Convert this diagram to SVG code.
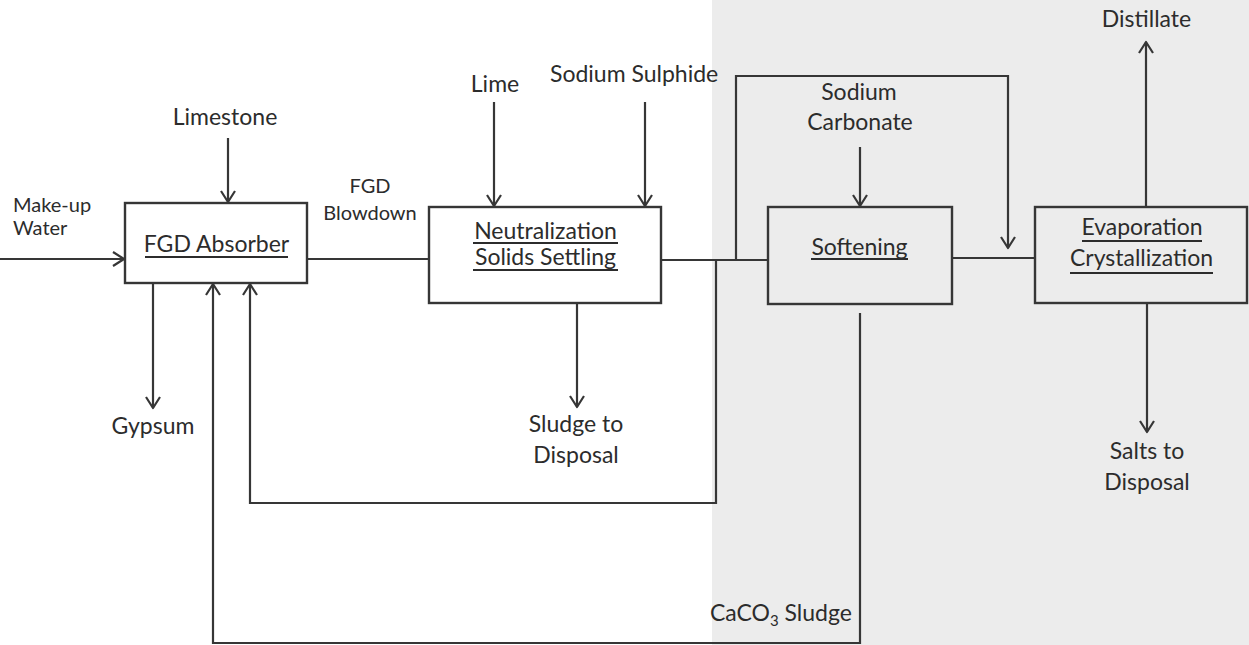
<svg xmlns="http://www.w3.org/2000/svg" width="1249" height="645" viewBox="0 0 1249 645">
<defs>
<marker id="arr" viewBox="-14 -9 16 18" refX="0" refY="0" markerWidth="16" markerHeight="18" orient="auto" markerUnits="userSpaceOnUse">
<path d="M-11,-7 L0,0 L-11,7" fill="none" stroke="#363636" stroke-width="2.2" stroke-linejoin="round"/>
</marker>
</defs>
<style>
.bg{fill:#ffffff}
.bg2{fill:#ececec}
.box{fill:none;stroke:#363636;stroke-width:2.4}
.ln{fill:none;stroke:#363636;stroke-width:2.2}
.ar{marker-end:url(#arr)}
text{font-family:Lato,"Liberation Sans",sans-serif;font-size:23px;fill:#2c2c2c}
.c{text-anchor:middle}
.sm{font-size:20px}
.ul{stroke:#2c2c2c;stroke-width:1.8}
</style>
<rect class="bg" x="0" y="0" width="1249" height="645"/>
<rect class="bg2" x="712" y="0" width="537" height="645"/>

<g id="connectors">
<line class="ln ar" x1="0" y1="259" x2="124" y2="259"/>
<line class="ln ar" x1="228" y1="138" x2="228" y2="202"/>
<line class="ln" x1="307" y1="259" x2="429" y2="259"/>
<line class="ln ar" x1="494" y1="102" x2="494" y2="206"/>
<line class="ln ar" x1="645" y1="102" x2="645" y2="206"/>
<line class="ln" x1="661" y1="260" x2="768" y2="260"/>
<polyline class="ln ar" points="736,260 736,76 1008,76 1008,248"/>
<line class="ln ar" x1="860" y1="147" x2="860" y2="206"/>
<line class="ln" x1="952" y1="258" x2="1035" y2="258"/>
<line class="ln ar" x1="1146" y1="207" x2="1146" y2="42"/>
<line class="ln ar" x1="1147" y1="303" x2="1147" y2="432"/>
<line class="ln ar" x1="153" y1="283" x2="153" y2="408"/>
<line class="ln ar" x1="577" y1="303" x2="577" y2="407"/>
<polyline class="ln ar" points="716,260 716,503 250,503 250,284"/>
<polyline class="ln ar" points="860,313 860,643 213,643 213,284"/>
</g>

<g id="fgd-absorber">
<rect class="box" x="125" y="203" width="182" height="80"/>
<text class="c" x="216.5" y="252">FGD Absorber</text>
<line class="ul" x1="145" y1="257" x2="288" y2="257"/>
</g>

<g id="neutralization">
<rect class="box" x="429" y="207" width="232" height="96"/>
<text class="c" x="545.5" y="239">Neutralization</text>
<line class="ul" x1="473" y1="243" x2="618" y2="243"/>
<text class="c" x="545.5" y="265">Solids Settling</text>
<line class="ul" x1="473" y1="270" x2="618" y2="270"/>
</g>

<g id="softening">
<rect class="box" x="768" y="207" width="184" height="97"/>
<text class="c" x="859.5" y="255">Softening</text>
<line class="ul" x1="811" y1="259" x2="908" y2="259"/>
</g>

<g id="evaporation">
<rect class="box" x="1035" y="207" width="212" height="96"/>
<text class="c" x="1142" y="235">Evaporation</text>
<line class="ul" x1="1082" y1="241" x2="1202" y2="241"/>
<text class="c" x="1141.5" y="266">Crystallization</text>
<line class="ul" x1="1070" y1="273" x2="1213" y2="273"/>
</g>

<g id="labels">
<text x="13" y="212" class="sm">Make-up</text>
<text x="13" y="235" class="sm">Water</text>
<text class="c" x="225" y="125">Limestone</text>
<text class="c sm" x="370" y="193">FGD</text>
<text class="c sm" x="370" y="220">Blowdown</text>
<text class="c" x="495" y="92">Lime</text>
<text x="550" y="82">Sodium Sulphide</text>
<text class="c" x="859" y="100">Sodium</text>
<text class="c" x="860" y="130">Carbonate</text>
<text class="c" x="1146.5" y="27">Distillate</text>
<text class="c" x="153" y="434">Gypsum</text>
<text class="c" x="576" y="432">Sludge to</text>
<text class="c" x="576" y="463">Disposal</text>
<text class="c" x="1147" y="459">Salts to</text>
<text class="c" x="1147" y="490">Disposal</text>
<text x="710" y="621">CaCO<tspan font-size="15" dy="5">3</tspan><tspan dy="-5"> Sludge</tspan></text>
</g>
</svg>
